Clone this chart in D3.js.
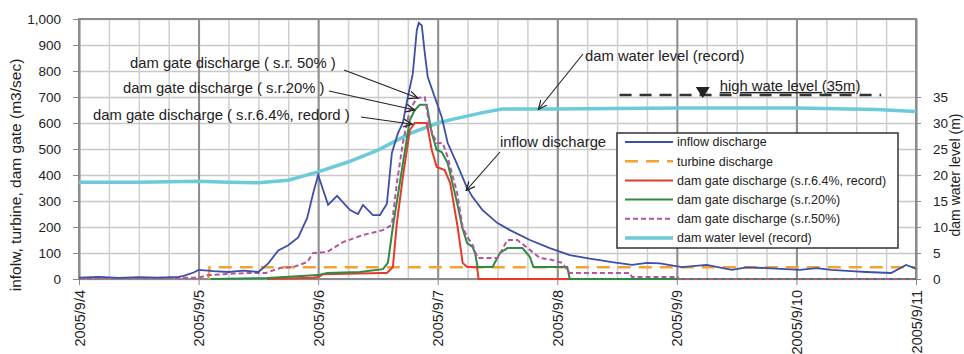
<!DOCTYPE html>
<meta charset="utf-8">
<style>
  body { margin: 0; background: #fff; }
  svg { font-family: "Liberation Sans", Arial, sans-serif; }
  .line { fill: none; }
  .minor line { stroke: #cfcfcf; stroke-width: 1.5px; }
  .major line { stroke: #8c8c8c; stroke-width: 2px; }
  .hgrid line { stroke: #c8c8c8; stroke-width: 1.5px; }
  .grid path { stroke-width: 0; }
  .axis text { font-size: 13.5px; fill: #222; }
  .xaxis text { font-size: 14.5px; }
  .axis path { display: none; }
  .axis line { stroke: #888; }
  .note { font-size: 14.8px; fill: #222; }
</style>
<body>
<script src="https://d3js.org/d3.v7.min.js"></script>
<script>
// hours after 2005/9/4 00:00
var inflowH = [0, 4, 8, 12, 16, 20, 21, 23, 24, 27, 30, 33, 36, 38, 40, 42, 44, 45.8, 47, 48, 50, 51.8, 54.4, 56, 57, 59, 60.4, 61.8, 62.8, 64, 65, 66, 67, 67.8, 68.2, 68.8, 69.4, 70, 71.4, 72.8, 74, 75.8, 77.8, 79, 81, 84, 86.5, 90.5, 94.5, 98.5, 102.5, 104.5, 107, 111, 114, 116.6, 121, 126, 131, 134, 138, 144.7, 148, 151, 155, 158, 163, 166, 168];
var inflowV = [5, 8, 4, 7, 5, 8, 12, 25, 35, 30, 27, 32, 27, 60, 110, 130, 160, 235, 330, 400, 285, 320, 265, 250, 285, 246, 246, 290, 485, 560, 600, 700, 790, 957, 985, 975, 870, 777, 700, 623, 523, 446, 354, 315, 265, 215, 188, 150, 119, 92, 78, 73, 65, 54, 62, 60, 46, 54, 35, 45, 42, 35, 42, 35, 30, 27, 23, 54, 40];

var turbineH = [26, 26.2, 168];
var turbineV = [0, 45, 45];

var gate64H = [37.8, 47, 48, 49, 61, 61.8, 63, 63.8, 65, 66.4, 67.4, 69.8, 70.8, 71.8, 73.4, 74.5, 76, 77, 77.9, 79.9, 80.2, 168];
var gate64V = [0, 5, 8, 18, 23, 23, 46, 215, 392, 573, 600, 600, 496, 431, 419, 369, 200, 62, 46, 46, 0, 0];

var gate20H = [26.5, 37.8, 48, 49.8, 56.4, 61, 62, 63, 64.8, 66.4, 67.4, 68.4, 69.8, 70.8, 71.8, 72.8, 74, 75.9, 76.9, 77.9, 79, 79.5, 80, 83, 84.5, 86, 89, 90.5, 91.2, 98, 98.5, 168];
var gate20V = [0, 4, 15, 23, 27, 38, 62, 200, 419, 611, 650, 670, 670, 561, 496, 488, 446, 292, 200, 138, 123, 100, 46, 46, 100, 119, 119, 85, 46, 46, 0, 0];

var gate50H = [0, 24, 26, 33.5, 37.5, 40.3, 43, 45.8, 47, 49.8, 53, 57, 61, 62.8, 63.8, 65, 66.4, 67.8, 69.4, 70.4, 71.8, 73, 74, 75.9, 77, 78, 79, 80, 84, 86, 88, 90.5, 92.5, 95, 97, 98.5, 110.6, 111, 120, 120.5, 168];
var gate50V = [3, 5, 15, 23, 23, 42, 46, 65, 100, 104, 142, 169, 188, 208, 369, 523, 650, 696, 700, 585, 523, 523, 469, 331, 200, 160, 131, 81, 81, 150, 150, 112, 81, 73, 62, 23, 23, 8, 8, 0, 0];

// dam water level (m), right axis
var levelH = [0, 12, 24, 30, 36, 42, 48, 54, 60, 66.5, 72, 74.5, 81, 85, 94.5, 121, 144, 160, 168];
var levelV = [18.6, 18.6, 18.8, 18.6, 18.5, 19, 20.6, 22.5, 24.8, 28, 30, 30.6, 32, 32.7, 32.7, 32.9, 32.9, 32.6, 32.2];

var highWaterH = [108.5, 161];
var highWaterV = [35.4, 35.4];

var leftTicks = [0, 100, 200, 300, 400, 500, 600, 700, 800, 900, 1000];
var rightTicks = [0, 5, 10, 15, 20, 25, 30, 35];

var seriesNames = ["inflow discharge", "turbine discharge", "dam gate discharge (s.r.6.4%, record)",
  "dam gate discharge (s.r.20%)", "dam gate discharge (s.r.50%)", "dam water level (record)"];
var seriesColors = ["#3d4fa6", "#f4a230", "#e63a2c", "#2f8a44", "#b4559e", "#6ccad9"];

var margin = {top: 19, right: 48, bottom: 75, left: 79},
    width = 964 - margin.left - margin.right,
    height = 354 - margin.top - margin.bottom;

var t0 = new Date(2005, 8, 4);
function toDate(h) { return new Date(t0.getTime() + h * 3600 * 1000); }
function zip(hs, vs) { return hs.map(function(h, i) { return {date: toDate(h), v: vs[i]}; }); }

var x = d3.scaleTime().domain([t0, new Date(2005, 8, 11)]).range([0, width]);
var y = d3.scaleLinear().domain([0, 1000]).range([height, 0]);
var y2 = d3.scaleLinear().domain([0, 50]).range([height, 0]);

var svg = d3.select("body").append("svg")
    .attr("width", 964)
    .attr("height", 354)
  .append("g")
    .attr("transform", "translate(" + margin.left + "," + margin.top + ")");

svg.append("defs").append("marker")
    .attr("id", "arrow")
    .attr("viewBox", "0 0 10 10")
    .attr("refX", 9).attr("refY", 5)
    .attr("markerWidth", 9).attr("markerHeight", 9)
    .attr("orient", "auto-start-reverse")
  .append("path")
    .attr("d", "M0,1 L9,5 L0,9")
    .attr("fill", "none")
    .attr("stroke", "#222")
    .attr("stroke-width", 1.2);

// grid
svg.append("g")
    .attr("class", "grid hgrid")
    .call(d3.axisLeft(y).tickValues(leftTicks).tickSize(-width).tickFormat(""));
svg.append("g")
    .attr("class", "grid minor")
    .attr("transform", "translate(0," + height + ")")
    .call(d3.axisBottom(x).ticks(d3.timeHour.every(6)).tickSize(-height).tickFormat(""));
svg.append("g")
    .attr("class", "grid major")
    .attr("transform", "translate(0," + height + ")")
    .call(d3.axisBottom(x).ticks(d3.timeDay.every(1)).tickSize(-height).tickFormat(""));
svg.append("rect")
    .attr("width", width).attr("height", height)
    .attr("fill", "none").attr("stroke", "#8c8c8c").attr("stroke-width", 2);

// axes
svg.append("g")
    .attr("class", "axis")
    .call(d3.axisLeft(y).tickValues(leftTicks).tickFormat(d3.format(",")).tickSize(6).tickPadding(12));
svg.append("g")
    .attr("class", "axis")
    .attr("transform", "translate(" + width + ",0)")
    .call(d3.axisRight(y2).tickValues(rightTicks).tickSize(5).tickPadding(12));
var xa = svg.append("g")
    .attr("class", "axis xaxis")
    .attr("transform", "translate(0," + height + ")")
    .call(d3.axisBottom(x).ticks(d3.timeDay.every(1)).tickFormat(d3.timeFormat("%Y/%-m/%-d")).tickSize(6));
xa.selectAll("text")
    .attr("transform", "rotate(-90)")
    .attr("x", -11).attr("y", 0).attr("dy", "0.35em")
    .style("text-anchor", "end");

svg.append("text")
    .attr("transform", "translate(" + (21 - margin.left) + "," + (175 - margin.top) + ") rotate(-90)")
    .attr("text-anchor", "middle")
    .attr("fill", "#222")
    .style("font-size", "15.5px")
    .text("infolw, turbine, dam gate (m3/sec)");
svg.append("text")
    .attr("transform", "translate(" + (960 - margin.left) + "," + (175 - margin.top) + ") rotate(-90)")
    .attr("text-anchor", "middle")
    .attr("fill", "#222")
    .style("font-size", "14px")
    .text("dam water level (m)");

// lines
var line = d3.line().x(function(d) { return x(d.date); }).y(function(d) { return y(d.v); });
var line2 = d3.line().x(function(d) { return x(d.date); }).y(function(d) { return y2(d.v); });

svg.append("path").datum(zip(levelH, levelV))
    .attr("class", "line").attr("stroke", seriesColors[5]).attr("stroke-width", 3.5).attr("d", line2);
svg.append("path").datum(zip(turbineH, turbineV))
    .attr("class", "line").attr("stroke", seriesColors[1]).attr("stroke-width", 2.5)
    .attr("stroke-dasharray", "13,8").attr("d", line);
svg.append("path").datum(zip(gate64H, gate64V))
    .attr("class", "line").attr("stroke", seriesColors[2]).attr("stroke-width", 2).attr("d", line);
svg.append("path").datum(zip(gate20H, gate20V))
    .attr("class", "line").attr("stroke", seriesColors[3]).attr("stroke-width", 2).attr("d", line);
svg.append("path").datum(zip(gate50H, gate50V))
    .attr("class", "line").attr("stroke", seriesColors[4]).attr("stroke-width", 2)
    .attr("stroke-dasharray", "5,3").attr("d", line);
svg.append("path").datum(zip(inflowH, inflowV))
    .attr("class", "line").attr("stroke", seriesColors[0]).attr("stroke-width", 1.8).attr("d", line);

// high water level
svg.append("path").datum(zip(highWaterH, highWaterV))
    .attr("class", "line").attr("stroke", "#333").attr("stroke-width", 2.5)
    .attr("stroke-dasharray", "12,8").attr("d", line2);
var tri = x(toDate(125.2)), triY = y2(35.4);
svg.append("path")
    .attr("d", "M" + (tri - 7) + "," + (triY - 8) + "L" + (tri + 7) + "," + (triY - 8) + "L" + tri + "," + (triY + 3) + "Z")
    .attr("fill", "#222");
svg.append("text").attr("class", "note")
    .attr("x", x(toDate(128.6))).attr("y", triY - 4)
    .style("text-decoration", "underline")
    .text("high wate level (35m)");

// annotations with arrows
var notes = [
  {t: "dam gate discharge ( s.r. 50% )", tx: 130, ty: 68, x1: 265, y1: 51, h: 68, v: 696},
  {t: "dam gate discharge ( s.r.20% )", tx: 123, ty: 93, x1: 250, y1: 72, h: 67.4, v: 650},
  {t: "dam gate discharge ( s.r.6.4%, redord )", tx: 93, ty: 120, x1: 282, y1: 98, h: 66.9, v: 595},
  {t: "dam water level (record)", tx: 585, ty: 61, x1: 504, y1: 35, h: 92.2, v: 0, lvl: 32.6},
  {t: "inflow discharge", tx: 500, ty: 147, x1: 421, y1: 133, h: 77.7, v: 340}
];
notes.forEach(function(n) {
  svg.append("text").attr("class", "note")
      .attr("x", n.tx - margin.left).attr("y", n.ty - margin.top)
      .text(n.t);
  var ex = x(toDate(n.h)), ey = n.lvl ? y2(n.lvl) : y(n.v);
  svg.append("line")
      .attr("x1", n.x1).attr("y1", n.y1)
      .attr("x2", ex).attr("y2", ey)
      .attr("stroke", "#222").attr("stroke-width", 1.1)
      .attr("marker-end", "url(#arrow)");
});

// legend
var lg = svg.append("g").attr("transform", "translate(" + (617 - margin.left) + "," + (133 - margin.top) + ")");
lg.append("rect").attr("width", 281).attr("height", 115)
    .attr("fill", "#fff").attr("stroke", "#333").attr("stroke-width", 1.5);
var dashes = [null, "13,8", null, null, "5,3", null];
var widths = [1.8, 2.5, 2, 2, 2, 3.5];
seriesNames.forEach(function(name, i) {
  var yy = 9 + i * 19.2;
  lg.append("line").attr("x1", 8).attr("x2", 56).attr("y1", yy).attr("y2", yy)
      .attr("stroke", seriesColors[i]).attr("stroke-width", widths[i])
      .attr("stroke-dasharray", dashes[i]);
  lg.append("text").attr("x", 60).attr("y", yy).attr("dy", "0.35em")
      .style("font-size", "12.5px").attr("fill", "#222")
      .text(name);
});
</script>
</body>
